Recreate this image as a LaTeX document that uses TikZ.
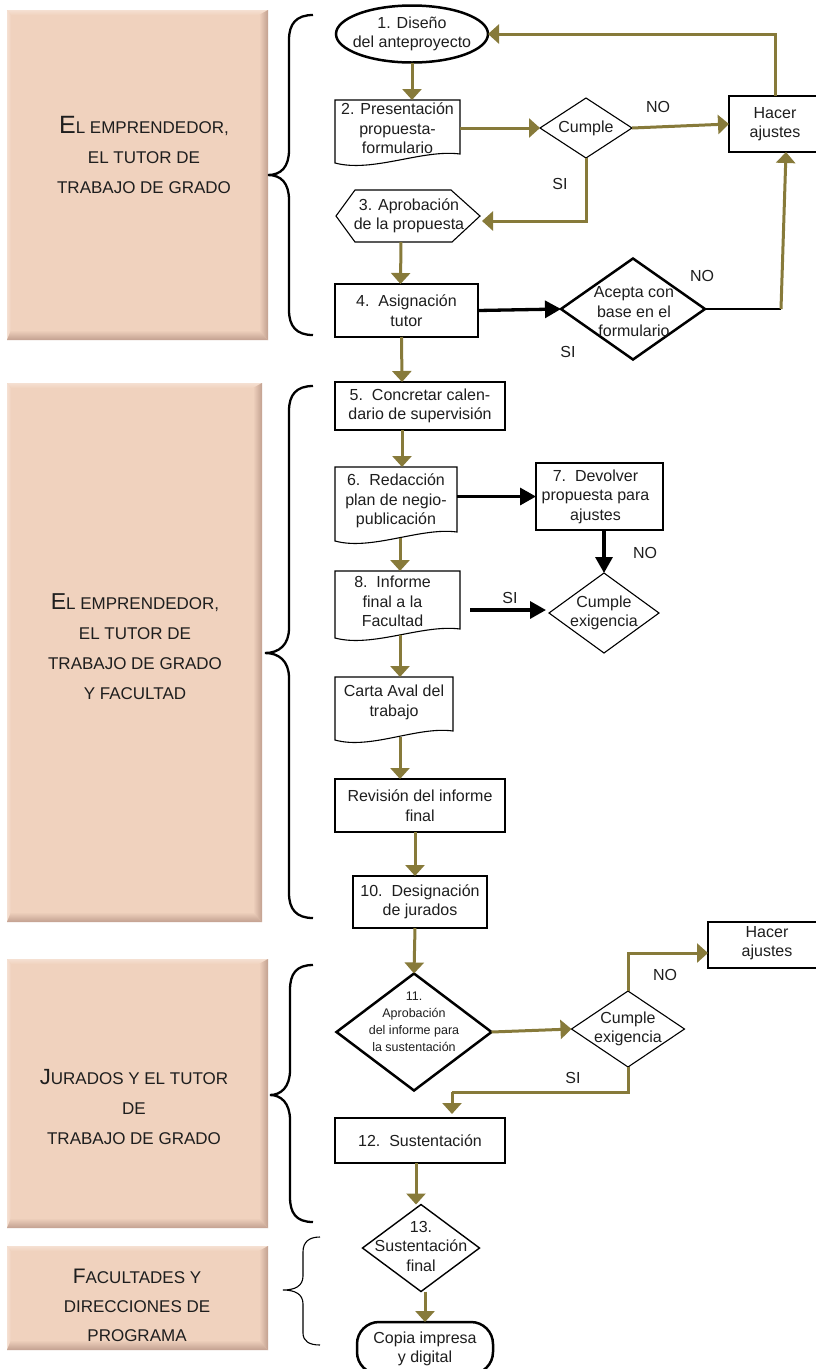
\documentclass[tikz,border=0pt]{standalone}
\usepackage{fontspec}
\setmainfont{Liberation Sans}
\usetikzlibrary{shapes.geometric,arrows.meta,calc}
\definecolor{olivec}{RGB}{135,122,58}
\definecolor{peach}{RGB}{240,210,190}
\definecolor{peachdark}{RGB}{194,160,144}
\definecolor{peachlight}{RGB}{245,224,210}
\definecolor{txtc}{RGB}{30,30,30}
\newcommand\mynf{\fontsize{16}{19.5}\selectfont}
\newcommand\mysmallnf{\fontsize{12.5}{17}\selectfont}
\newcommand\mybigletter[2]{{\fontsize{#1}{30}\selectfont #2}}
\newcommand\sidebox[4]{%
  \fill[peach] (#1,#2) rectangle (#3,#4);
  \shade[top color=peachlight, bottom color=peach] (#1,#2) -- (#3,#2) -- ({#3-9},{#2+5}) -- ({#1+4},{#2+5}) -- cycle;
  \shade[left color=peachlight, right color=peach] (#1,#2) -- ({#1+4},{#2+5}) -- ({#1+4},{#4-10}) -- (#1,#4) -- cycle;
  \shade[left color=peach, right color=peachdark] ({#3-9},{#2+5}) -- (#3,#2) -- (#3,#4) -- ({#3-9},{#4-10}) -- cycle;
  \shade[top color=peach, bottom color=peachdark] (#1,#4) -- ({#1+4},{#4-10}) -- ({#3-9},{#4-10}) -- (#3,#4) -- cycle;
}
\newcommand\docpath[1]{%
  \draw[line width=1.1pt] (#1.north west) -- (#1.north east) -- ($(#1.south east)+(0,-9)$)
    .. controls ($(#1.south east)!0.3!(#1.south west)+(0,-14)$) and ($(#1.south west)!0.3!(#1.south east)+(0,10)$) .. (#1.south west) -- cycle;}
\tikzset{
  olivearrow/.style={draw=olivec, line width=3pt, -{Triangle[width=19pt,length=11pt]}},
  oliveline/.style={draw=olivec, line width=3pt},
  blackarrow/.style={draw=black, line width=3.3pt, -{Triangle[width=17pt,length=16pt]}},
  shp/.style={inner sep=0pt, outer sep=0pt},
  thickbox/.style={shp, rectangle, draw, line width=2.5pt},
  ghost/.style={shp, rectangle},
  dia/.style={shp, diamond, draw, line width=1.1pt},
  thickdia/.style={shp, diamond, draw, line width=2.5pt},
  txt/.style={inner sep=0pt, align=center, text=txtc, font=\mynf},
  smalltxt/.style={inner sep=0pt, align=center, text=txtc, font=\mysmallnf},
  lbl/.style={inner sep=0pt, text=txtc, font=\mynf},
  boxtext/.style={inner sep=0pt, align=center, text=txtc, font=\fontsize{17}{30}\selectfont},
  bracepath/.style={draw=black, line width=2.3pt},
  thinbrace/.style={draw=black, line width=1.1pt},
}
\begin{document}
\begin{tikzpicture}[x=1pt,y=-1pt]
\useasboundingbox (0,0) rectangle (815,1369);
\fill[white] (0,0) rectangle (815,1369);

% ---------- side boxes ----------
\sidebox{7}{10}{268}{340}
\sidebox{7}{383}{262}{922}
\sidebox{7}{959}{268}{1228}
\sidebox{7}{1246}{268}{1350}

\node[boxtext] (t1) at (144,155) {\mybigletter{25}{E}L EMPRENDEDOR,\\EL TUTOR DE\\TRABAJO DE GRADO};
\node[boxtext] (t2) at (135,647) {\mybigletter{23}{E}L EMPRENDEDOR,\\EL TUTOR DE\\TRABAJO DE GRADO\\Y FACULTAD};
\node[boxtext] (t3) at (134,1107) {\mybigletter{22}{J}URADOS Y EL TUTOR\\DE\\TRABAJO DE GRADO};
\node[boxtext, font=\fontsize{17}{29}\selectfont] (t4) at (137,1305) {\mybigletter{21}{F}ACULTADES Y\\DIRECCIONES DE\\PROGRAMA};

% ---------- braces ----------
\draw[bracepath] (313,15) .. controls (296,15) and (289,24) .. (289,40) -- (289,150)
  .. controls (289,167) and (281,175) .. (268,175) .. controls (281,175) and (289,183) .. (289,200)
  -- (289,310) .. controls (289,326) and (296,335) .. (313,335);
\draw[bracepath] (313,386) .. controls (296,386) and (289,395) .. (289,411) -- (289,628)
  .. controls (289,645) and (279,653) .. (265,653) .. controls (279,653) and (289,661) .. (289,678)
  -- (289,893) .. controls (289,909) and (296,918) .. (313,918);
\draw[bracepath] (313,965) .. controls (296,965) and (290,974) .. (290,990) -- (290,1070)
  .. controls (290,1087) and (281,1095) .. (270,1095) .. controls (281,1095) and (290,1103) .. (290,1120)
  -- (290,1197) .. controls (290,1213) and (296,1222) .. (313,1222);
\draw[thinbrace] (320,1237) .. controls (309,1237) and (303,1242) .. (303,1252) -- (303,1276)
  .. controls (303,1286) and (295,1290) .. (283,1290) .. controls (295,1290) and (303,1294) .. (303,1304)
  -- (303,1333) .. controls (303,1341) and (309,1345) .. (320,1345);

% ---------- section 1 ----------
\node[shp, ellipse, draw, line width=2.5pt, minimum width=152pt, minimum height=57pt] (n1) at (412,34) {};
\node[txt] (n1t) at (n1) {1. Diseño\\del anteproyecto};

\node[ghost, minimum width=125pt, minimum height=63pt] (n2) at (397.5,131.5) {};
\docpath{n2}
\node[txt] (n2t) at ($(n2)+(0,-3)$) {2. Presentación\\propuesta-\\formulario};

\node[dia, minimum width=92pt, minimum height=60pt] (c1) at (586,128) {};
\node[txt] (c1t) at (c1) {Cumple};

\node[shp, rectangle, draw, line width=1.6pt, minimum width=92pt, minimum height=56pt] (h1) at (775,124) {};
\node[txt] (h1t) at (h1) {Hacer\\ajustes};

\node[ghost, minimum width=144pt, minimum height=52pt] (n3) at (408,216) {};
\draw[line width=1.1pt] (n3.west) -- ($(n3.north west)+(19,0)$) -- ($(n3.north east)+(-29,0)$) -- (n3.east)
  -- ($(n3.south east)+(-28,0)$) -- ($(n3.south west)+(19,0)$) -- cycle;
\node[txt] (n3t) at ($(n3)+(1,0)$) {3. Aprobación\\de la propuesta};

\node[thickbox, minimum width=143pt, minimum height=53pt] (n4) at (406.5,310.5) {};
\node[txt] (n4t) at (n4) {4.\ \ Asignación\\tutor};

\node[thickdia, minimum width=144pt, minimum height=101pt] (d2) at (633,309) {};
\node[txt] (d2t) at (634,312) {Acepta con\\base en el\\formulario};

\draw[olivearrow] (n1.south) -- (n1.south |- n2.north);
\draw[olivearrow] (n2.east |- c1.west) -- (c1.west);
\draw[olivearrow] (c1.east) -- (h1.west);
\draw[olivearrow] (h1.north) |- (n1.east);
\draw[olivearrow] (c1.south) |- ($(n3.east)+(2,5)$);
\draw[olivearrow] ([xshift=-7pt]n3.south) -- ([xshift=-6pt]n4.north);
\draw[blackarrow] (n4.east) -- (d2.west);
\coordinate (k1) at (781,309);
\draw[draw=black, line width=2.5pt] (d2.east) -- (k1);
\draw[olivearrow] (k1) -- ($(h1.south)+(11,0)$);

\node[lbl] (l1) at (658,107) {NO};
\node[lbl] (l2) at (560,184) {SI};
\node[lbl] (l3) at (702,276) {NO};
\node[lbl] (l4) at (568,352) {SI};

% ---------- section 2 ----------
\node[thickbox, minimum width=170pt, minimum height=48pt] (n5) at (420,406) {};
\node[txt] (n5t) at (n5) {5.\ \ Concretar calen-\\dario de supervisión};
\draw[olivearrow] ([xshift=-5pt]n4.south) -- ([xshift=-18pt]n5.north);

\node[ghost, minimum width=122pt, minimum height=74pt] (n6) at (396,504) {};
\docpath{n6}
\node[txt] (n6t) at ($(n6)+(0,-3)$) {6.\ \ Redacción\\plan de negio-\\publicación};
\draw[olivearrow] ([xshift=-18pt]n5.south) -- ([xshift=6pt]n6.north);

\node[thickbox, minimum width=127pt, minimum height=67pt] (n7) at (599.5,496.5) {};
\node[txt] (n7t) at ($(n7)+(-4,0)$) {7.\ \ Devolver\\propuesta para\\ajustes};
\draw[blackarrow] (n6.east |- n7.west) -- (n7.west);

\node[dia, minimum width=110pt, minimum height=80pt] (c2) at (604,613) {};
\node[txt] (c2t) at (c2) {Cumple\\exigencia};
\draw[blackarrow] ([xshift=4.5pt]n7.south) -- (c2.north);

\node[ghost, minimum width=125pt, minimum height=67pt] (n8) at (397.5,604.5) {};
\docpath{n8}
\node[txt] (n8t) at ($(n8)+(-5,-3)$) {8.\ \ Informe\\final a la\\Facultad};
\draw[olivearrow] ($(n6.south)+(4,-3)$) -- ([xshift=2.5pt]n8.north);
\draw[blackarrow] ($(n8.east |- c2.west)+(10,-3)$) -- ($(c2.west)+(-3,-3)$);
\node[lbl] (l5) at (645,553) {NO};
\node[lbl] (l6) at (510,598) {SI};

\node[ghost, minimum width=118pt, minimum height=63pt] (n9) at (394,708.5) {};
\docpath{n9}
\node[txt] (n9t) at ($(n9)+(0,-6)$) {Carta Aval del\\trabajo};
\draw[olivearrow] ($(n8.south)+(2.5,-3)$) -- ([xshift=6pt]n9.north);

\node[thickbox, minimum width=170pt, minimum height=53pt] (n10) at (420,805.5) {};
\node[txt] (n10t) at (n10) {Revisión del informe\\final};
\draw[olivearrow] ($(n9.south)+(6,-3)$) -- ([xshift=-20pt]n10.north);

\node[thickbox, minimum width=134pt, minimum height=52pt] (n11) at (420,902) {};
\node[txt] (n11t) at (n11) {10.\ \ Designación\\de jurados};
\draw[olivearrow] ([xshift=-5pt]n10.south) -- ([xshift=-5pt]n11.north);

% ---------- section 3 ----------
\node[thickdia, minimum width=155pt, minimum height=117pt] (d11) at (414,1032) {};
\node[smalltxt] (d11t) at (414,1022) {11.\\Aprobación\\del informe para\\la sustentación};
\draw[olivearrow] ([xshift=-5pt]n11.south) -- (d11.north);

\node[dia, minimum width=113pt, minimum height=76pt] (c3) at (628,1029) {};
\node[txt] (c3t) at (c3) {Cumple\\exigencia};
\draw[olivearrow] (d11.east) -- (c3.west);

\node[shp, rectangle, draw, line width=2pt, minimum width=118pt, minimum height=46pt] (h2) at (767,945) {};
\node[txt] (h2t) at ($(h2)+(0,-2)$) {Hacer\\ajustes};
\draw[olivearrow] (c3.north) |- ([yshift=-8pt]h2.west);

\node[thickbox, minimum width=170pt, minimum height=45pt] (n12) at (420,1140.5) {};
\node[txt] (n12t) at (n12) {12.\ \ Sustentación};
\coordinate (k2) at (452,1092);
\draw[oliveline] (c3.south) |- (k2);
\draw[olivearrow] (k2) -- ($(k2 |- n12.north)+(0,-4)$);
\node[lbl] (l7) at (665,975) {NO};
\node[lbl] (l8) at (573,1078) {SI};

% ---------- section 4 ----------
\node[dia, line width=1.4pt, minimum width=117pt, minimum height=87pt] (d13) at (421,1248) {};
\node[txt] (d13t) at (421,1246) {13.\\Sustentación\\final};
\draw[olivearrow] ([xshift=-4pt]n12.south) -- ([xshift=-5pt]d13.north);

\node[shp, rectangle, draw, line width=2.5pt, rounded corners=22pt, minimum width=136pt, minimum height=52pt] (n14) at (425,1348) {};
\node[txt] (n14t) at (425,1349) {Copia impresa\\y digital};
\draw[olivearrow] ([xshift=4pt]d13.south) -- (n14.north);
\end{tikzpicture}
\end{document}
